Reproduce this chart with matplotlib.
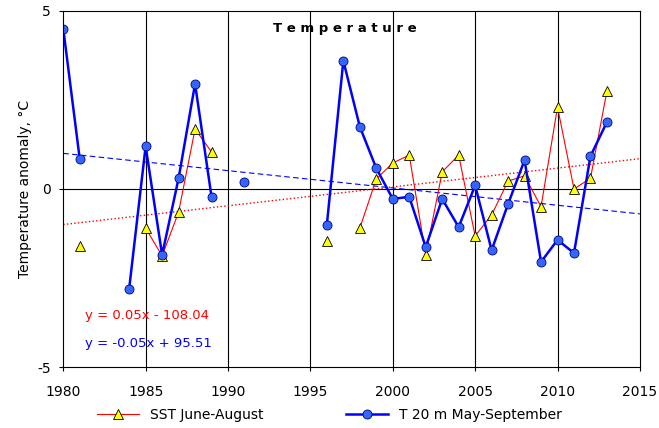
import numpy as np
import matplotlib
matplotlib.use("Agg")
import matplotlib.pyplot as plt

plt.rcParams["axes.unicode_minus"] = False

nan = np.nan
years = np.arange(1980, 2014)
t20 = [4.5, 0.84, nan, nan, -2.8, 1.2, -1.85, 0.3, 2.95, -0.22,
       nan, 0.2, nan, nan, nan, nan, -1.0, 3.6, 1.75, 0.58,
       -0.28, -0.22, -1.63, -0.28, -1.07, 0.1, -1.72, -0.42, 0.81, -2.05,
       -1.43, -1.8, 0.92, 1.88]
sst = [nan, -1.6, nan, nan, nan, -1.1, -1.88, -0.65, 1.68, 1.04,
       nan, nan, nan, nan, nan, nan, -1.46, nan, -1.1, 0.28,
       0.73, 0.95, -1.85, 0.48, 0.95, -1.32, -0.73, 0.22, 0.37, -0.5,
       2.3, 0.0, 0.3, 2.75]
trend_x = [1980, 2015]
sst_trend = [-1.0, 0.85]
t20_trend = [1.0, -0.7]

fig = plt.figure(figsize=(6.59, 4.28), dpi=100)
ax = fig.add_axes([0.096, 0.1425, 0.875, 0.832])

for x in range(1985, 2015, 5):
    ax.axvline(x, color="black", lw=0.8)
ax.axhline(0, color="black", lw=0.8)

ax.plot(trend_x, sst_trend, color="red", ls=":", lw=1)
ax.plot(trend_x, t20_trend, color="blue", ls=(0, (5, 3)), lw=0.8)

ax.plot(years, sst, color="red", lw=0.8, marker="^", ms=7,
        mfc="#ffff00", mec="black", mew=0.6, label="SST June-August")
ax.plot(years, t20, color="#0000ff", lw=1.8, marker="o", ms=6.5,
        mfc="#3366ff", mec="#000080", mew=0.6, label="T 20 m May-September")

ax.set_xlim(1980, 2015)
ax.set_ylim(-5, 5)
ax.set_xticks(range(1980, 2016, 5))
ax.set_yticks([-5, 0, 5])
ax.tick_params(labelsize=10, length=3)
ax.tick_params(axis="x", pad=10)
ax.tick_params(axis="y", pad=6)
ax.set_ylabel("Temperature anomaly, °C", fontsize=10)

ax.text(1997.1, 4.4, "T e m p e r a t u r e", fontsize=9.5, fontweight="bold", ha="center")
ax.text(1981.3, -3.65, "y = 0.05x - 108.04", color="red", fontsize=9.5)
ax.text(1981.3, -4.45, "y = -0.05x + 95.51", color="blue", fontsize=9.5)

fig.legend(loc="lower center", ncol=2, frameon=False, fontsize=10,
           bbox_to_anchor=(0.5, -0.015), columnspacing=6, handlelength=3)

fig.savefig("out.png", dpi=100)
